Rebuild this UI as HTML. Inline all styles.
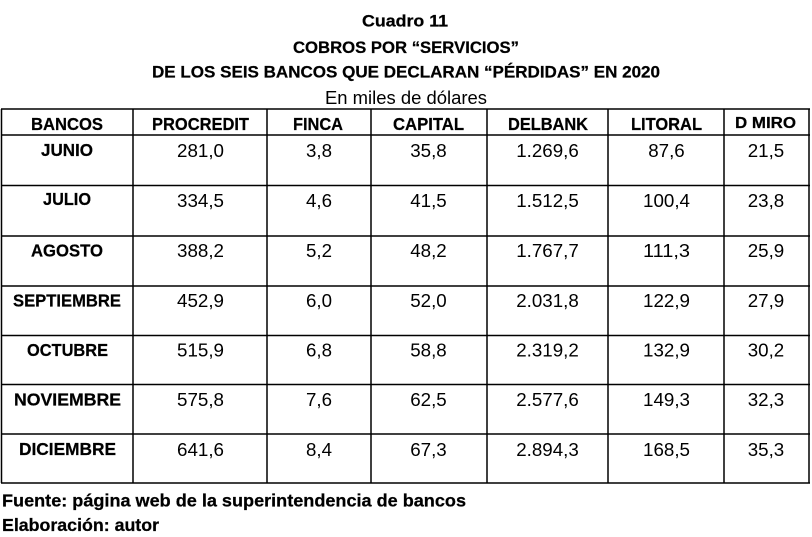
<!DOCTYPE html>
<html><head><meta charset="utf-8"><style>
html,body{margin:0;padding:0;background:#fff;}
svg{display:block;}
text{font-family:"Liberation Sans",Arial,sans-serif;fill:#000;}
.b{font-weight:bold;font-size:17.5px;stroke:#000;stroke-width:0.25px;}
.t{font-weight:bold;font-size:17px;stroke:#000;stroke-width:0.25px;}
.d{font-size:18px;}
</style></head><body>
<svg width="812" height="537" viewBox="0 0 812 537" xmlns="http://www.w3.org/2000/svg">
<rect width="812" height="537" fill="#fff"/>
<!-- titles -->
<text class="t" x="405" y="26.5" text-anchor="middle" textLength="86" lengthAdjust="spacingAndGlyphs">Cuadro 11</text>
<text class="t" x="406" y="53" text-anchor="middle" textLength="226" lengthAdjust="spacingAndGlyphs">COBROS POR “SERVICIOS”</text>
<text class="t" x="406" y="77.5" text-anchor="middle" textLength="508" lengthAdjust="spacingAndGlyphs">DE LOS SEIS BANCOS QUE DECLARAN “PÉRDIDAS” EN 2020</text>
<text x="406" y="104" text-anchor="middle" font-size="18.5" textLength="162" lengthAdjust="spacingAndGlyphs">En miles de dólares</text>

<!-- grid -->
<g stroke="#000" stroke-width="1.5" fill="none">
<line x1="1" y1="109" x2="810" y2="109"/>
<line x1="1" y1="135" x2="810" y2="135"/>
<line x1="1" y1="185.5" x2="810" y2="185.5"/>
<line x1="1" y1="236" x2="810" y2="236"/>
<line x1="1" y1="286" x2="810" y2="286"/>
<line x1="1" y1="335.5" x2="810" y2="335.5"/>
<line x1="1" y1="384.5" x2="810" y2="384.5"/>
<line x1="1" y1="434" x2="810" y2="434"/>
<line x1="1" y1="483" x2="810" y2="483"/>
<line x1="1.5" y1="109" x2="1.5" y2="483"/>
<line x1="133" y1="109" x2="133" y2="483"/>
<line x1="267" y1="109" x2="267" y2="483"/>
<line x1="371" y1="109" x2="371" y2="483"/>
<line x1="487" y1="109" x2="487" y2="483"/>
<line x1="608" y1="109" x2="608" y2="483"/>
<line x1="724" y1="109" x2="724" y2="483"/>
<line x1="809" y1="109" x2="809" y2="483"/>
</g>

<!-- headers -->
<g text-anchor="middle">
<text class="b" x="67" y="130" textLength="72" lengthAdjust="spacingAndGlyphs">BANCOS</text>
<text class="b" x="200.5" y="130" textLength="97" lengthAdjust="spacingAndGlyphs">PROCREDIT</text>
<text class="b" x="318" y="130" textLength="50" lengthAdjust="spacingAndGlyphs">FINCA</text>
<text class="b" x="428.5" y="130" textLength="71" lengthAdjust="spacingAndGlyphs">CAPITAL</text>
<text class="b" x="548" y="130" textLength="80" lengthAdjust="spacingAndGlyphs">DELBANK</text>
<text class="b" x="666.5" y="130" textLength="71" lengthAdjust="spacingAndGlyphs">LITORAL</text>
<text class="b" x="765.5" y="128" textLength="61" lengthAdjust="spacingAndGlyphs" style="font-size:16px">D MIRO</text>
</g>

<!-- month labels -->
<g text-anchor="middle">
<text class="b" x="67" y="156" textLength="52" lengthAdjust="spacingAndGlyphs">JUNIO</text>
<text class="b" x="67" y="205" textLength="48" lengthAdjust="spacingAndGlyphs">JULIO</text>
<text class="b" x="67" y="256.5" textLength="72" lengthAdjust="spacingAndGlyphs">AGOSTO</text>
<text class="b" x="67" y="306.5" textLength="108" lengthAdjust="spacingAndGlyphs">SEPTIEMBRE</text>
<text class="b" x="67.5" y="356" textLength="81" lengthAdjust="spacingAndGlyphs">OCTUBRE</text>
<text class="b" x="67.5" y="405.5" textLength="107" lengthAdjust="spacingAndGlyphs">NOVIEMBRE</text>
<text class="b" x="67.5" y="455" textLength="97" lengthAdjust="spacingAndGlyphs">DICIEMBRE</text>
</g>

<!-- data -->
<g text-anchor="middle">
<text class="d" x="200.5" y="157" textLength="47" lengthAdjust="spacingAndGlyphs">281,0</text>
<text class="d" x="319" y="157" textLength="26" lengthAdjust="spacingAndGlyphs">3,8</text>
<text class="d" x="428.5" y="157" textLength="36.5" lengthAdjust="spacingAndGlyphs">35,8</text>
<text class="d" x="547.5" y="157" textLength="62.5" lengthAdjust="spacingAndGlyphs">1.269,6</text>
<text class="d" x="666.5" y="157" textLength="36.5" lengthAdjust="spacingAndGlyphs">87,6</text>
<text class="d" x="766" y="157" textLength="36.5" lengthAdjust="spacingAndGlyphs">21,5</text>

<text class="d" x="200.5" y="207" textLength="47" lengthAdjust="spacingAndGlyphs">334,5</text>
<text class="d" x="319" y="207" textLength="26" lengthAdjust="spacingAndGlyphs">4,6</text>
<text class="d" x="428.5" y="207" textLength="36.5" lengthAdjust="spacingAndGlyphs">41,5</text>
<text class="d" x="547.5" y="207" textLength="62.5" lengthAdjust="spacingAndGlyphs">1.512,5</text>
<text class="d" x="666.5" y="207" textLength="47" lengthAdjust="spacingAndGlyphs">100,4</text>
<text class="d" x="766" y="207" textLength="36.5" lengthAdjust="spacingAndGlyphs">23,8</text>

<text class="d" x="200.5" y="257" textLength="47" lengthAdjust="spacingAndGlyphs">388,2</text>
<text class="d" x="319" y="257" textLength="26" lengthAdjust="spacingAndGlyphs">5,2</text>
<text class="d" x="428.5" y="257" textLength="36.5" lengthAdjust="spacingAndGlyphs">48,2</text>
<text class="d" x="547.5" y="257" textLength="62.5" lengthAdjust="spacingAndGlyphs">1.767,7</text>
<text class="d" x="666.5" y="257" textLength="47" lengthAdjust="spacingAndGlyphs">111,3</text>
<text class="d" x="766" y="257" textLength="36.5" lengthAdjust="spacingAndGlyphs">25,9</text>

<text class="d" x="200.5" y="307" textLength="47" lengthAdjust="spacingAndGlyphs">452,9</text>
<text class="d" x="319" y="307" textLength="26" lengthAdjust="spacingAndGlyphs">6,0</text>
<text class="d" x="428.5" y="307" textLength="36.5" lengthAdjust="spacingAndGlyphs">52,0</text>
<text class="d" x="547.5" y="307" textLength="62.5" lengthAdjust="spacingAndGlyphs">2.031,8</text>
<text class="d" x="666.5" y="307" textLength="47" lengthAdjust="spacingAndGlyphs">122,9</text>
<text class="d" x="766" y="307" textLength="36.5" lengthAdjust="spacingAndGlyphs">27,9</text>

<text class="d" x="200.5" y="356.5" textLength="47" lengthAdjust="spacingAndGlyphs">515,9</text>
<text class="d" x="319" y="356.5" textLength="26" lengthAdjust="spacingAndGlyphs">6,8</text>
<text class="d" x="428.5" y="356.5" textLength="36.5" lengthAdjust="spacingAndGlyphs">58,8</text>
<text class="d" x="547.5" y="356.5" textLength="62.5" lengthAdjust="spacingAndGlyphs">2.319,2</text>
<text class="d" x="666.5" y="356.5" textLength="47" lengthAdjust="spacingAndGlyphs">132,9</text>
<text class="d" x="766" y="356.5" textLength="36.5" lengthAdjust="spacingAndGlyphs">30,2</text>

<text class="d" x="200.5" y="406" textLength="47" lengthAdjust="spacingAndGlyphs">575,8</text>
<text class="d" x="319" y="406" textLength="26" lengthAdjust="spacingAndGlyphs">7,6</text>
<text class="d" x="428.5" y="406" textLength="36.5" lengthAdjust="spacingAndGlyphs">62,5</text>
<text class="d" x="547.5" y="406" textLength="62.5" lengthAdjust="spacingAndGlyphs">2.577,6</text>
<text class="d" x="666.5" y="406" textLength="47" lengthAdjust="spacingAndGlyphs">149,3</text>
<text class="d" x="766" y="406" textLength="36.5" lengthAdjust="spacingAndGlyphs">32,3</text>

<text class="d" x="200.5" y="456" textLength="47" lengthAdjust="spacingAndGlyphs">641,6</text>
<text class="d" x="319" y="456" textLength="26" lengthAdjust="spacingAndGlyphs">8,4</text>
<text class="d" x="428.5" y="456" textLength="36.5" lengthAdjust="spacingAndGlyphs">67,3</text>
<text class="d" x="547.5" y="456" textLength="62.5" lengthAdjust="spacingAndGlyphs">2.894,3</text>
<text class="d" x="666.5" y="456" textLength="47" lengthAdjust="spacingAndGlyphs">168,5</text>
<text class="d" x="766" y="456" textLength="36.5" lengthAdjust="spacingAndGlyphs">35,3</text>
</g>

<!-- footer -->
<text class="t" x="2" y="506.5" font-size="17.5" textLength="464" lengthAdjust="spacingAndGlyphs" style="font-size:17.5px">Fuente: página web de la superintendencia de bancos</text>
<text class="t" x="2" y="531" textLength="157" lengthAdjust="spacingAndGlyphs" style="font-size:17.5px">Elaboración: autor</text>
</svg>
</body></html>
